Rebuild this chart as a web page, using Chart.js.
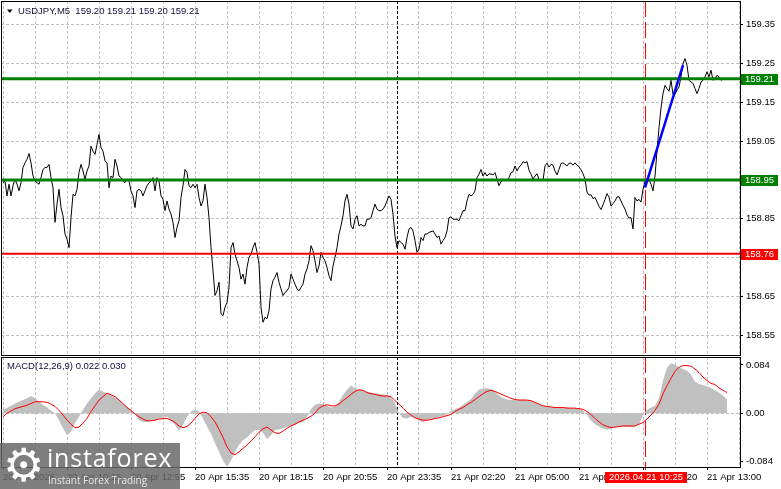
<!DOCTYPE html>
<html lang="es">
<head>
<meta charset="utf-8">
<title>USDJPY M5</title>
<script src="https://cdn.jsdelivr.net/npm/chart.js@4.4.1/dist/chart.umd.min.js"></script>
<style>
  html, body { margin: 0; padding: 0; background: #fff; }
  body { position: relative; width: 781px; height: 489px; overflow: hidden; }
  canvas { position: absolute; left: 0; }
  #graficaPrecio { top: 0; }
  #graficaMacd { top: 356px; }
  #logo { position: absolute; left: 0; top: 443px; width: 180px; height: 46px; background: rgba(105,105,105,0.85); color: #fff; font-family: "Open Sans", sans-serif; }
  #logo .icono { position: absolute; left: 3px; top: -3px; font-family: "DejaVu Sans"; font-size: 46px; line-height: 50px; }
  #logo .marca { position: absolute; left: 47px; top: 0px; font-size: 25px; line-height: 28px; letter-spacing: 0.8px; }
  #logo .lema { position: absolute; left: 48px; top: 31px; font-size: 10px; line-height: 12px; color: #e6e6e6; }
</style>
</head>
<body>
<canvas id="graficaPrecio" width="781" height="357"></canvas>
<canvas id="graficaMacd" width="781" height="133"></canvas>
<div id="logo"><span class="icono">⚙</span><span class="marca">instaforex</span><span class="lema">Instant Forex Trading</span></div>

<script>
// Textos
const titulo = 'USDJPY,M5  159.20 159.21 159.20 159.21';
const tituloMacd = 'MACD(12,26,9) 0.022 0.030';

// Etiquetas de tiempo (una cada 32 velas de 5 min)
const etiquetasTiempo = ['20 Apr 2026', '20 Apr 10:15', '20 Apr 12:55', '20 Apr 15:35', '20 Apr 18:15', '20 Apr 20:55',
    '20 Apr 23:35', '21 Apr 02:20', '21 Apr 05:00', '21 Apr 07:40', '21 Apr 10:20', '21 Apr 13:00'];

// Escalas
const ticksPrecio = [158.55, 158.65, 158.75, 158.85, 158.95, 159.05, 159.15, 159.25, 159.35];
const rangoPrecio = [158.50, 159.41];
const ticksMacd = [-0.084, 0, 0.084];
const rangoMacd = [-0.0934, 0.0979];

// Cierres M5 (una vela por valor)
const precio = [
    158.943, 158.947, 158.909, 158.939, 158.909, 158.935, 158.952, 158.939, 158.922, 158.943,
    158.982, 158.994, 159.003, 159.018, 158.994, 158.960, 158.947, 158.943, 158.939, 158.956,
    158.977, 158.982, 158.982, 158.990, 158.956, 158.930, 158.841, 158.888, 158.926, 158.879,
    158.858, 158.811, 158.798, 158.776, 158.853, 158.913, 158.909, 158.926, 158.969, 158.990,
    158.973, 158.952, 158.973, 158.986, 159.037, 159.024, 159.016, 159.041, 159.067, 159.033,
    159.024, 158.999, 158.994, 158.930, 158.960, 158.956, 159.003, 158.986, 158.960, 158.956,
    158.947, 158.943, 158.952, 158.947, 158.922, 158.909, 158.879, 158.922, 158.926, 158.922,
    158.909, 158.922, 158.935, 158.943, 158.947, 158.956, 158.922, 158.956, 158.947, 158.909,
    158.900, 158.871, 158.896, 158.875, 158.862, 158.841, 158.802, 158.828, 158.845, 158.905,
    158.935, 158.977, 158.969, 158.935, 158.930, 158.939, 158.930, 158.939, 158.905, 158.883,
    158.896, 158.939, 158.905, 158.853, 158.776, 158.717, 158.653, 158.665, 158.687, 158.606,
    158.601, 158.623, 158.635, 158.674, 158.776, 158.789, 158.759, 158.742, 158.725, 158.695,
    158.708, 158.682, 158.725, 158.751, 158.759, 158.776, 158.789, 158.764, 158.734, 158.623,
    158.584, 158.597, 158.593, 158.614, 158.670, 158.691, 158.700, 158.712, 158.687, 158.670,
    158.653, 158.661, 158.665, 158.674, 158.708, 158.695, 158.682, 158.670, 158.665, 158.674,
    158.682, 158.708, 158.721, 158.742, 158.781, 158.768, 158.742, 158.712, 158.729, 158.764,
    158.751, 158.742, 158.725, 158.704, 158.691, 158.729, 158.751, 158.776, 158.811, 158.832,
    158.858, 158.896, 158.913, 158.888, 158.832, 158.824, 158.849, 158.858, 158.832, 158.836,
    158.832, 158.832, 158.849, 158.849, 158.853, 158.871, 158.888, 158.875, 158.871, 158.871,
    158.875, 158.883, 158.896, 158.909, 158.900, 158.862, 158.806, 158.776, 158.794, 158.789,
    158.785, 158.772, 158.802, 158.824, 158.828, 158.819, 158.794, 158.764, 158.772, 158.802,
    158.794, 158.811, 158.811, 158.815, 158.817, 158.819, 158.811, 158.802, 158.806, 158.785,
    158.794, 158.802, 158.819, 158.853, 158.855, 158.849, 158.849, 158.849, 158.845, 158.858,
    158.871, 158.871, 158.896, 158.913, 158.909, 158.913, 158.922, 158.956, 158.965, 158.977,
    158.960, 158.969, 158.960, 158.966, 158.965, 158.963, 158.969, 158.952, 158.935, 158.946,
    158.949, 158.949, 158.949, 158.956, 158.969, 158.971, 158.986, 158.973, 158.983, 158.988,
    158.997, 158.994, 158.997, 158.975, 158.965, 158.952, 158.960, 158.966, 158.951, 158.949,
    158.949, 158.986, 158.993, 158.983, 158.990, 158.988, 158.973, 158.963, 158.977, 158.992,
    158.994, 158.990, 158.986, 158.993, 158.993, 158.988, 158.994, 158.988, 158.984, 158.976,
    158.966, 158.952, 158.919, 158.911, 158.912, 158.902, 158.905, 158.894, 158.882, 158.874,
    158.886, 158.900, 158.915, 158.906, 158.883, 158.889, 158.896, 158.906, 158.907, 158.896,
    158.885, 158.875, 158.860, 158.852, 158.853, 158.824, 158.905, 158.896, 158.900, 158.893,
    158.926, 158.947, 158.943, 158.951, 158.939, 158.922, 158.960, 159.024, 159.084, 159.135,
    159.172, 159.193, 159.185, 159.178, 159.206, 159.170, 159.170, 159.181, 159.189, 159.215,
    159.249, 159.262, 159.245, 159.206, 159.202, 159.198, 159.185, 159.172, 159.185, 159.202,
    159.206, 159.215, 159.228, 159.215, 159.232, 159.206, 159.211, 159.219, 159.215, 159.206,
    159.210
];

// Niveles horizontales (verde, verde, rojo)
const niveles = [159.21, 158.95, 158.76];

// Linea de tendencia azul
const tendenciaVelas = [321, 340];
const tendenciaPrecios = [158.93, 159.245];

// Separador de dia y linea del cursor (indice de vela)
const velaSeparador = 197;
const velaCursor = 321;
const etiquetaCursor = '2026.04.21 10:25';

// MACD: una muestra cada 2 velas
const pasoMacd = 2;
const macdHist = [
    0.006, 0.009, 0.013, 0.017, 0.020, 0.023, 0.026, 0.030, 0.026, 0.020,
    0.015, 0.010, 0.005, 0.000, -0.012, -0.026, -0.038, -0.032, -0.017, -0.006,
    0.006, 0.017, 0.026, 0.035, 0.041, 0.038, 0.035, 0.031, 0.027, 0.023,
    0.017, 0.012, 0.006, -0.001, -0.012, -0.015, -0.015, -0.013, -0.012, -0.009,
    -0.007, -0.006, -0.012, -0.020, -0.031, -0.020, -0.006, 0.003, 0.006, 0.003,
    -0.009, -0.023, -0.035, -0.052, -0.067, -0.082, -0.093, -0.082, -0.067, -0.055,
    -0.047, -0.042, -0.035, -0.029, -0.029, -0.034, -0.045, -0.038, -0.029, -0.028,
    -0.026, -0.024, -0.022, -0.020, -0.017, -0.015, -0.006, 0.007, 0.015, 0.017,
    0.016, 0.013, 0.010, 0.012, 0.020, 0.032, 0.041, 0.048, 0.044, 0.041,
    0.040, 0.038, 0.036, 0.035, 0.034, 0.033, 0.032,
    0.028, 0.017, 0.000, -0.008, -0.009, -0.006, -0.008, -0.013, -0.015, -0.013,
    -0.010, -0.009, -0.006, -0.005, -0.002, 0.004, 0.007, 0.010, 0.015, 0.019,
    0.025, 0.035, 0.041, 0.043, 0.044, 0.042, 0.038, 0.031, 0.026, 0.024,
    0.023, 0.023, 0.024, 0.024, 0.023, 0.022, 0.019, 0.016, 0.013, 0.012,
    0.011, 0.010, 0.010, 0.010, 0.010, 0.009, 0.009, 0.008, 0.005, -0.003,
    -0.013, -0.019, -0.023, -0.027, -0.028, -0.027, -0.024, -0.023, -0.023, -0.024,
    -0.024, -0.023, -0.019, -0.003, 0.006, 0.010, 0.013, 0.026, 0.057, 0.079,
    0.087, 0.085, 0.080, 0.077, 0.074, 0.067, 0.055, 0.051, 0.049, 0.047,
    0.044, 0.040, 0.036, 0.031, 0.024
];
const macdSenal = [
    -0.006, 0.000, 0.004, 0.008, 0.010, 0.012, 0.014, 0.017, 0.020, 0.020,
    0.020, 0.019, 0.016, 0.012, 0.005, -0.003, -0.012, -0.019, -0.025, -0.024,
    -0.017, -0.009, 0.003, 0.013, 0.023, 0.029, 0.035, 0.032, 0.029, 0.023,
    0.017, 0.010, 0.005, -0.001, -0.006, -0.010, -0.013, -0.013, -0.012, -0.010,
    -0.009, -0.009, -0.012, -0.016, -0.022, -0.025, -0.023, -0.017, -0.009, -0.001,
    0.002, 0.001, -0.006, -0.015, -0.028, -0.042, -0.058, -0.069, -0.072, -0.067,
    -0.061, -0.055, -0.048, -0.041, -0.033, -0.027, -0.024, -0.029, -0.034, -0.035,
    -0.031, -0.026, -0.022, -0.019, -0.015, -0.012, -0.009, -0.005, 0.000, 0.009,
    0.013, 0.015, 0.013, 0.013, 0.016, 0.022, 0.027, 0.033, 0.038, 0.041,
    0.040, 0.036, 0.034, 0.033, 0.031, 0.030, 0.030,
    0.029, 0.022, 0.016, 0.009, 0.002, -0.003, -0.008, -0.010, -0.012, -0.012,
    -0.011, -0.009, -0.008, -0.006, -0.004, -0.002, 0.003, 0.007, 0.010, 0.015,
    0.019, 0.024, 0.029, 0.034, 0.038, 0.040, 0.038, 0.035, 0.032, 0.029,
    0.026, 0.024, 0.023, 0.023, 0.023, 0.022, 0.019, 0.016, 0.013, 0.012,
    0.011, 0.010, 0.010, 0.010, 0.009, 0.009, 0.009, 0.008, 0.007, 0.003,
    -0.002, -0.009, -0.015, -0.020, -0.023, -0.025, -0.024, -0.023, -0.022, -0.022,
    -0.022, -0.022, -0.019, -0.016, -0.010, -0.003, 0.005, 0.016, 0.034, 0.048,
    0.061, 0.073, 0.080, 0.083, 0.083, 0.082, 0.077, 0.071, 0.063, 0.057,
    0.052, 0.050, 0.044, 0.040, 0.036
];

// ---- estilo ----
const FUENTE = { family: '"Liberation Sans", Arial, sans-serif', size: 9.5 };
const FUENTE_CSS = '9.5px "Liberation Sans", Arial, sans-serif';
const GRIS = '#c0c0c0';
const VERDE = '#008000';
const ROJO = '#ff0000';
const coloresNivel = [VERDE, VERDE, ROJO];
const grosorNivel = [3, 3, 2];
const X_MIN = -1, X_MAX = 368.5;   // velas visibles (2 px por vela)

// rejilla vertical cada 16 velas
const rejillaTiempo = [];
for (let v = 0; v <= 368; v += 16) rejillaTiempo.push(v);

function ticksFijos(valores) {
    return function (eje) { eje.ticks = valores.map(v => ({ value: v })); };
}

function fijarEje(ancho, alto) {
    return function (eje) {
        if (ancho !== null) eje.width = ancho;
        if (alto !== null) eje.height = alto;
        eje.paddingTop = 0; eje.paddingBottom = 0;
        eje.paddingLeft = 0; eje.paddingRight = 0;
    };
}

function lineaVertical(chart, vela, color, guiones, extra) {
    const { ctx, chartArea, scales } = chart;
    const x = Math.round(scales.x.getPixelForValue(vela)) + 0.5;
    ctx.save();
    ctx.strokeStyle = color;
    ctx.lineWidth = 1;
    ctx.setLineDash(guiones);
    ctx.beginPath();
    ctx.moveTo(x, chartArea.top);
    ctx.lineTo(x, chartArea.bottom + extra);
    ctx.stroke();
    ctx.restore();
}

function marco(chart) {
    const { ctx, chartArea } = chart;
    ctx.save();
    ctx.strokeStyle = '#000';
    ctx.lineWidth = 1;
    ctx.strokeRect(chartArea.left + 0.5, chartArea.top + 0.5,
        chartArea.right - chartArea.left, chartArea.bottom - chartArea.top);
    ctx.restore();
}

function etiquetaColor(ctx, x, yCentro, texto, fondo, centrado) {
    ctx.save();
    ctx.font = FUENTE_CSS;
    const ancho = Math.round(ctx.measureText(texto).width) + 8;
    const x0 = centrado ? Math.round(x - ancho / 2) : x;
    ctx.fillStyle = fondo;
    ctx.fillRect(x0, Math.round(yCentro) - 5, ancho, 11);
    ctx.fillStyle = '#fff';
    ctx.textBaseline = 'middle';
    ctx.textAlign = 'left';
    ctx.fillText(texto, x0 + 4, Math.round(yCentro) + 0.5);
    ctx.restore();
}

const pluginPrecio = {
    id: 'extrasPrecio',
    beforeDatasetsDraw(chart) {
        lineaVertical(chart, velaSeparador, '#000', [3, 2], 0);
        lineaVertical(chart, velaCursor, ROJO, [16, 5], 0);
    },
    afterDraw(chart) {
        const { ctx, scales } = chart;
        marco(chart);
        niveles.forEach((v, i) => {
            etiquetaColor(ctx, 741, scales.y.getPixelForValue(v), v.toFixed(2), coloresNivel[i], false);
        });
        // cabecera
        ctx.save();
        ctx.fillStyle = '#000';
        ctx.beginPath();
        ctx.moveTo(7, 9.5); ctx.lineTo(12.5, 9.5); ctx.lineTo(9.75, 13);
        ctx.closePath();
        ctx.fill();
        ctx.fillStyle = '#10103a';
        ctx.font = FUENTE_CSS;
        ctx.textBaseline = 'middle';
        ctx.fillText(titulo, 18, 11.5);
        ctx.restore();
    }
};

const pluginMacd = {
    id: 'extrasMacd',
    beforeDatasetsDraw(chart) {
        lineaVertical(chart, velaSeparador, '#000', [3, 2], 0);
        lineaVertical(chart, velaCursor, ROJO, [16, 5], 3);
    },
    afterDraw(chart) {
        const { ctx, scales, chartArea } = chart;
        marco(chart);
        etiquetaColor(ctx, scales.x.getPixelForValue(velaCursor) + 0.5, chartArea.bottom + 10, etiquetaCursor, ROJO, true);
        ctx.save();
        ctx.fillStyle = '#10103a';
        ctx.font = FUENTE_CSS;
        ctx.textBaseline = 'middle';
        ctx.fillText(tituloMacd, 7, 10.5);
        ctx.restore();
    }
};

// ---- grafica de precio ----
const puntosPrecio = precio.map((p, i) => ({ x: i, y: p }));
const puntosTendencia = tendenciaVelas.map((v, i) => ({ x: v, y: tendenciaPrecios[i] }));
const datasetsNiveles = niveles.map((v, i) => ({
    data: [{ x: X_MIN, y: v }, { x: X_MAX, y: v }],
    borderColor: coloresNivel[i],
    borderWidth: grosorNivel[i]
}));

new Chart(document.getElementById('graficaPrecio'), {
    type: 'line',
    data: {
        datasets: [
            { data: puntosTendencia, borderColor: '#0000ff', borderWidth: 2.5 },
            ...datasetsNiveles,
            { data: puntosPrecio, borderColor: '#000', borderWidth: 1 }
        ]
    },
    options: {
        responsive: false,
        animation: false,
        events: [],
        layout: { padding: { left: 1, top: 1, right: 0, bottom: 2 } },
        elements: { point: { radius: 0 }, line: { tension: 0, fill: false } },
        plugins: { legend: { display: false }, tooltip: { enabled: false } },
        scales: {
            x: {
                type: 'linear', min: X_MIN, max: X_MAX, offset: false,
                afterBuildTicks: ticksFijos(rejillaTiempo),
                afterFit: fijarEje(null, 0),
                ticks: { display: false },
                grid: { color: GRIS, drawTicks: false },
                border: { display: false, dash: [3, 2] }
            },
            y: {
                type: 'linear', position: 'right', min: rangoPrecio[0], max: rangoPrecio[1],
                afterBuildTicks: ticksFijos(ticksPrecio),
                afterFit: fijarEje(41, null),
                ticks: { font: FUENTE, color: '#000', padding: 3, callback: v => v.toFixed(2) },
                grid: { color: GRIS, tickLength: 3, tickColor: '#000', tickBorderDash: [] },
                border: { display: false, dash: [3, 2] }
            }
        }
    },
    plugins: [pluginPrecio]
});

// ---- grafica MACD ----
const puntosHist = macdHist.map((v, i) => ({ x: i * pasoMacd, y: v }));
const puntosSenal = macdSenal.map((v, i) => ({ x: i * pasoMacd, y: v }));

new Chart(document.getElementById('graficaMacd'), {
    type: 'line',
    data: {
        datasets: [
            { data: puntosSenal, borderColor: ROJO, borderWidth: 1 },
            // histograma: columnas contiguas dibujadas como area rellena hasta cero
            { data: puntosHist, fill: 'origin', backgroundColor: GRIS,
              borderColor: 'rgba(0,0,0,0)', borderWidth: 0 }
        ]
    },
    options: {
        responsive: false,
        animation: false,
        events: [],
        layout: { padding: { left: 1, top: 1, right: 0, bottom: 0 } },
        elements: { point: { radius: 0 }, line: { tension: 0 } },
        plugins: { legend: { display: false }, tooltip: { enabled: false } },
        scales: {
            x: {
                type: 'linear', min: X_MIN, max: X_MAX, offset: false,
                afterBuildTicks: ticksFijos(rejillaTiempo),
                afterFit: fijarEje(null, 22),
                ticks: {
                    font: FUENTE, color: '#000', padding: 2, align: 'start',
                    autoSkip: false, maxRotation: 0, minRotation: 0,
                    callback: v => (v % 32 === 0 ? etiquetasTiempo[v / 32] : '')
                },
                grid: {
                    offset: false, color: GRIS, tickLength: 3, tickBorderDash: [],
                    tickColor: c => (c.tick && c.tick.value % 32 === 0 ? '#000' : 'rgba(0,0,0,0)')
                },
                border: { display: false, dash: [3, 2] }
            },
            y: {
                type: 'linear', position: 'right', min: rangoMacd[0], max: rangoMacd[1],
                afterBuildTicks: ticksFijos(ticksMacd),
                afterFit: fijarEje(41, null),
                ticks: { font: FUENTE, color: '#000', padding: 3, callback: v => (v === 0 ? '0.00' : v.toFixed(3)) },
                grid: {
                    tickLength: 3, tickColor: '#000', tickBorderDash: [],
                    color: c => (c.tick && c.tick.value === 0 ? GRIS : 'rgba(0,0,0,0)')
                },
                border: { display: false, dash: [3, 2] }
            }
        }
    },
    plugins: [pluginMacd]
});
</script>
</body>
</html>
